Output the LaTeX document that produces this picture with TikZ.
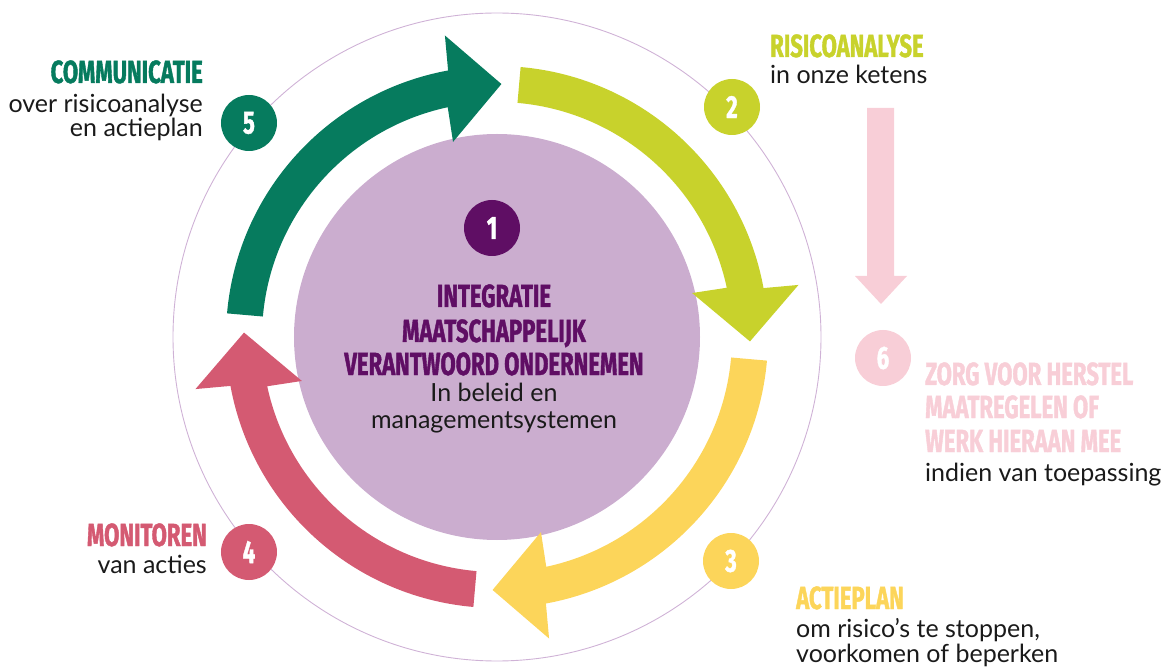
\documentclass[tikz,border=0pt]{standalone}
\usepackage{fontspec}
\setmainfont{Lato}
\newfontfamily\headfont{Fira Sans}[FakeStretch=0.69, BoldFeatures={FakeBold=1.2}]
\definecolor{cgreen}{HTML}{067B5E}
\definecolor{clime}{HTML}{C8D22C}
\definecolor{cyellow}{HTML}{FCD55A}
\definecolor{cred}{HTML}{D45A72}
\definecolor{cpink}{HTML}{F8CED7}
\definecolor{cmauve}{HTML}{CBADCF}
\definecolor{cplum}{HTML}{5F0E64}
\definecolor{cring}{HTML}{CFB2D6}
\definecolor{ctext}{HTML}{1A1A1A}

\begin{document}
\begin{tikzpicture}[x=1pt,y=1pt,
    head/.style={inner sep=0pt, font=\headfont\bfseries\fontsize{32}{34}\selectfont},
    body/.style={inner sep=0pt, text=ctext, font=\fontsize{25}{28}\selectfont},
    numdot/.style={circle, inner sep=0pt, minimum size=56pt, text=white,
        font=\headfont\bfseries\fontsize{32}{34}\selectfont}]
    % Parameters -- radii of the ring arrows
    \pgfmathsetmacro{\rin}{235}
    \pgfmathsetmacro{\rout}{271}
    \pgfmathsetmacro{\rmid}{253}
    \pgfmathsetmacro{\headin}{200}
    \pgfmathsetmacro{\headout}{306}

    \useasboundingbox (-497,-329) rectangle (669,337);

    % Outer ring and centre disc
    \draw[cring, line width=0.9pt] (0,0) circle (324);
    \fill[cmauve] (0,0) circle (203);

    % Ring arrows: tail angle / colour
    \foreach \s/\col in {175/cgreen, 85/clime, -5/cyellow, -95/cred}{
        \fill[\col] (\s:\rout) arc (\s:\s-74.6:\rout) -- (\s-75.2:\headout) -- (\s-86:\rmid)
            -- (\s-72.3:\headin) -- (\s-72.9:\rin) arc (\s-72.9:\s:\rin) -- cycle;
    }

    % Side arrow towards step 6
    \fill[cpink] (370,229) -- (397,229) -- (397,61) -- (410,61) -- (384,33) -- (358,61) -- (370,61) -- cycle;

    % Numbered dots
    \node[numdot, fill=cplum] (n1) at (-5,109) {1};
    \node[numdot, fill=clime] (n2) at (235,230) {2};
    \node[numdot, fill=cyellow] (n3) at (234,-224) {3};
    \node[numdot, fill=cred] (n4) at (-248,-215) {4};
    \node[numdot, fill=cgreen] (n5) at (-248,214) {5};
    \node[numdot, fill=cpink] (n6) at (386,-21) {6};

    % Centre text
    \node[head, text=cplum, anchor=base] (mvo1) at (-3,30) {INTEGRATIE};
    \node[head, text=cplum, anchor=base] (mvo2) at (-3,-5) {MAATSCHAPPELIJK};
    \node[head, text=cplum, anchor=base] (mvo3) at (-3,-38) {VERANTWOORD ONDERNEMEN};
    \node[body, anchor=base] (mvo4) at (-3,-64) {In beleid en};
    \node[body, anchor=base] (mvo5) at (-3,-91) {managementsystemen};

    % Step 2
    \node[head, text=clime, anchor=base west] (risk) at (273,280) {RISICOANALYSE};
    \node[body, anchor=base west] (risk1) at (273,253) {in onze ketens};

    % Step 3
    \node[head, text=cyellow, anchor=base west] (plan) at (299,-272) {ACTIEPLAN};
    \node[body, anchor=base west] (plan1) at (299,-300) {om risico’s te stoppen,};
    \node[body, anchor=base west] (plan2) at (299,-325) {voorkomen of beperken};

    % Step 4
    \node[head, text=cred, anchor=base east] (mon) at (-290,-209) {MONITOREN};
    \node[body, anchor=base east] (mon1) at (-290,-236) {van acties};

    % Step 5
    \node[head, text=cgreen, anchor=base east] (comm) at (-294,254) {COMMUNICATIE};
    \node[body, anchor=base east] (comm1) at (-294,224) {over risicoanalyse};
    \node[body, anchor=base east] (comm2) at (-294,200) {en actieplan};

    % Step 6
    \node[head, text=cpink, anchor=base west] (fix1) at (428,-48) {ZORG VOOR HERSTEL};
    \node[head, text=cpink, anchor=base west] (fix2) at (428,-81) {MAATREGELEN OF};
    \node[head, text=cpink, anchor=base west] (fix3) at (428,-115) {WERK HIERAAN MEE};
    \node[body, anchor=base west] (fix4) at (428,-144) {indien van toepassing};
\end{tikzpicture}
\end{document}
